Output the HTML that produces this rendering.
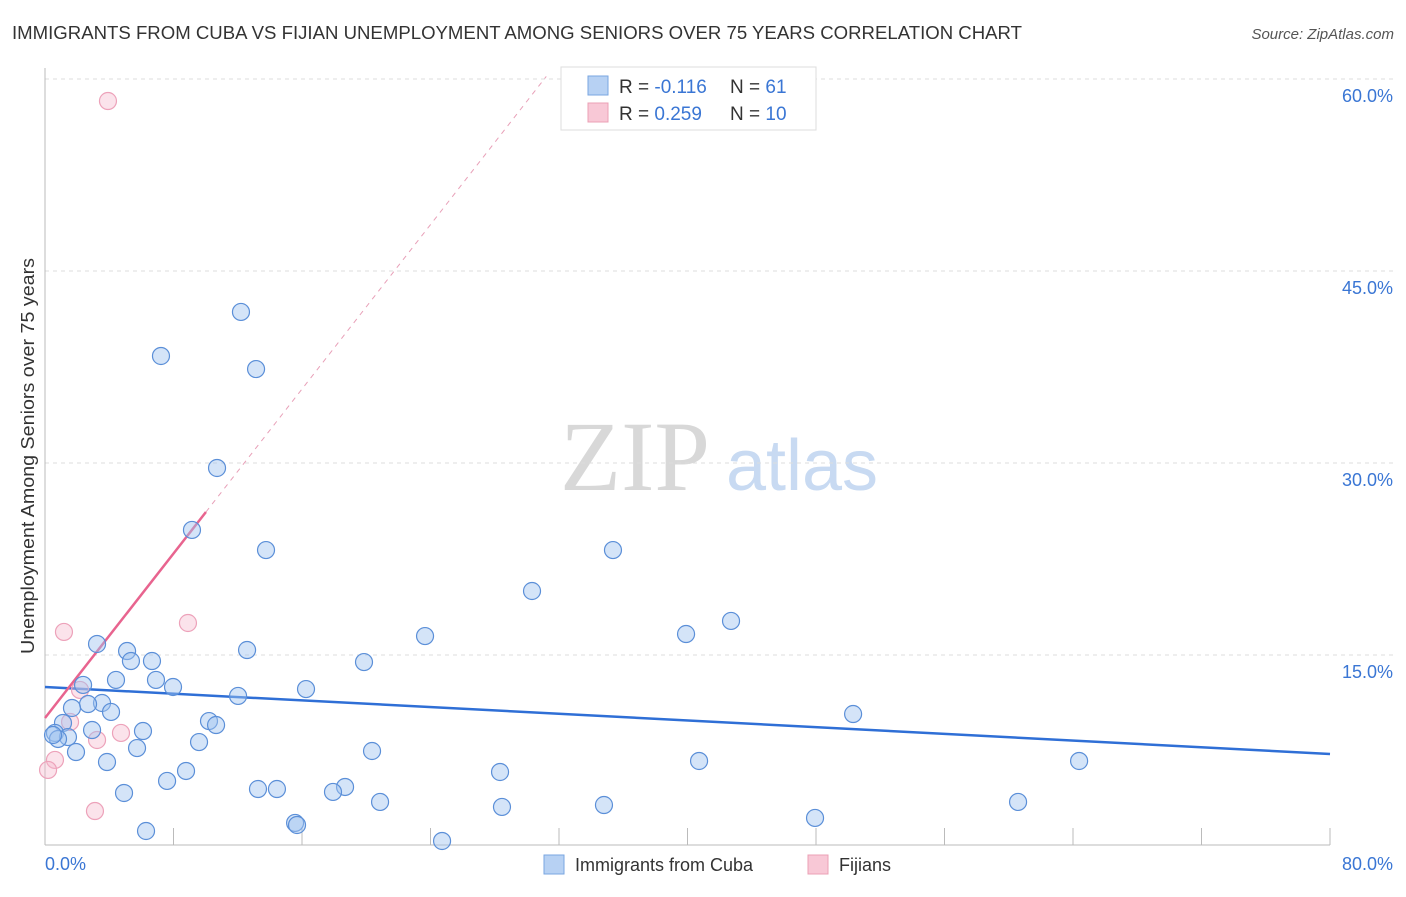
<!DOCTYPE html>
<html><head><meta charset="utf-8"><style>
body{margin:0;background:#fff;font-family:"Liberation Sans",sans-serif;}
</style></head><body>
<svg id="chart" width="1406" height="892" font-family="Liberation Sans, sans-serif">
<text x="12" y="39" font-size="18" fill="#333" textLength="1010" lengthAdjust="spacingAndGlyphs">IMMIGRANTS FROM CUBA VS FIJIAN UNEMPLOYMENT AMONG SENIORS OVER 75 YEARS CORRELATION CHART</text>
<text x="1394" y="39" font-size="15" fill="#555" font-style="italic" text-anchor="end">Source: ZipAtlas.com</text>
<text transform="translate(34,456) rotate(-90)" font-size="18" fill="#333" text-anchor="middle" textLength="396" lengthAdjust="spacingAndGlyphs">Unemployment Among Seniors over 75 years</text>
<g><text x="635" y="490" font-size="100" fill="#d8d8d8" style="font-family:'Liberation Serif',serif" text-anchor="middle">ZIP</text><text x="802" y="490" font-size="72" fill="#c8daf2" text-anchor="middle">atlas</text></g>
<g id="grid"></g><g id="axes"></g><g id="lines"></g><g id="pts"></g>
<g>
<rect x="561" y="67" width="255" height="63" fill="#fff" stroke="#ddd"/>
<rect x="588" y="76" width="20" height="19" fill="#b7d1f3" stroke="#7aa6e0"/>
<rect x="588" y="103" width="20" height="19" fill="#f8c8d6" stroke="#eba0b5"/>
<text x="619" y="93" font-size="19" fill="#333">R = <tspan fill="#3a76d4">-0.116</tspan><tspan x="730">N = </tspan><tspan fill="#3a76d4">61</tspan></text>
<text x="619" y="120" font-size="19" fill="#333">R = <tspan fill="#3a76d4"> 0.259</tspan><tspan x="730">N = </tspan><tspan fill="#3a76d4">10</tspan></text>
</g>
<g>
<rect x="544" y="855" width="20" height="19" fill="#b7d1f3" stroke="#7aa6e0"/>
<text x="575" y="871" font-size="18" fill="#333">Immigrants from Cuba</text>
<rect x="808" y="855" width="20" height="19" fill="#f8c8d6" stroke="#eba0b5"/>
<text x="839" y="871" font-size="18" fill="#333">Fijians</text>
</g>
</svg>
<script>
const blueX=[12.20,7.22,13.14,10.71,9.15,13.76,35.36,30.32,42.71,39.91,23.66,3.24,5.11,12.58,6.66,5.35,19.86,6.91,4.42,7.97,2.37,16.25,12.02,3.55,2.68,1.68,4.11,10.21,10.65,1.12,2.93,6.10,50.31,0.62,1.43,0.81,9.59,5.73,20.36,1.93,3.86,40.72,64.38,8.78,28.33,7.60,18.68,17.93,4.92,13.26,14.44,20.86,60.58,34.80,28.45,47.94,15.57,15.69,6.29,24.72,0.50];
const blueY=[41.80,38.36,37.34,29.61,24.77,23.20,23.20,20.00,17.66,16.64,16.48,15.86,15.31,15.39,14.53,14.53,14.45,13.05,13.05,12.50,12.66,12.34,11.80,11.25,11.17,10.86,10.55,9.84,9.53,9.69,9.14,9.06,10.39,8.91,8.59,8.44,8.20,7.73,7.50,7.42,6.64,6.72,6.72,5.94,5.86,5.16,4.69,4.30,4.22,4.53,4.53,3.52,3.52,3.28,3.13,2.27,1.88,1.72,1.25,0.47,8.75];
const pinkX=[3.92,1.18,8.90,2.18,1.56,3.24,4.73,0.62,0.19,3.11];
const pinkY=[58.28,16.80,17.50,12.27,9.77,8.36,8.91,6.80,6.02,2.81];
const yTicks=[15,30,45,60];
const yTickLabels=["15.0%","30.0%","45.0%","60.0%"];
const blueTrend=[12.5,7.27];
const pinkTrend=[10.08,1.606];
const NS="http://www.w3.org/2000/svg";
const sx=v=>45+v*1285/80, sy=v=>847-v*192/15;
function mk(tag,attrs,parent){const e=document.createElementNS(NS,tag);for(const k in attrs)e.setAttribute(k,attrs[k]);document.getElementById(parent).appendChild(e);return e;}
yTicks.forEach((t,i)=>{
 const g=mk('line',{x1:45,x2:1394,y1:sy(t),y2:sy(t),stroke:'#ddd','stroke-dasharray':'4,4'},'grid');
 
 
 const l=mk('text',{x:1393,y:sy(t)+23,'font-size':18,fill:'#3a76d4','text-anchor':'end'},'grid');
 l.textContent=yTickLabels[i];
 
 
});
const ax=mk('line',{x1:45,x2:45,y1:68,y2:845,stroke:'#bbb'},'axes');


const bx=mk('line',{x1:45,x2:1330,y1:845,y2:845,stroke:'#bbb'},'axes');


for(let i=1;i<=10;i++){const t=mk('line',{x1:sx(i*8),x2:sx(i*8),y1:828,y2:845,stroke:'#bbb'},'axes');
 
 }
[["0.0%",45,'start'],["80.0%",1393,'end']].forEach(a=>{const t=mk('text',{x:a[1],y:870,'font-size':18,fill:'#3a76d4','text-anchor':a[2]},'axes');t.textContent=a[0];
 
 });
const bl=mk('line',{x1:sx(0),y1:sy(blueTrend[0]),x2:sx(80),y2:sy(blueTrend[1]),stroke:'#2f6fd6','stroke-width':2.5},'lines');


const pEnd=10.02, pDash=(60.2-pinkTrend[0])/pinkTrend[1];
const pl=mk('line',{x1:sx(0),y1:sy(pinkTrend[0]),x2:sx(pEnd),y2:sy(pinkTrend[0]+pinkTrend[1]*pEnd),stroke:'#e8648f','stroke-width':2.5},'lines');


const pd=mk('line',{x1:sx(pEnd),y1:sy(pinkTrend[0]+pinkTrend[1]*pEnd),x2:sx(pDash),y2:sy(60.2),stroke:'#e8a0b8','stroke-width':1,'stroke-dasharray':'5,5'},'lines');


pinkX.forEach((x,i)=>{const c=mk('circle',{cx:sx(x),cy:sy(pinkY[i]),r:8.5,fill:'rgba(246,185,205,0.4)',stroke:'#eda2ba','stroke-width':1.2},'pts');
 
 });
blueX.forEach((x,i)=>{const c=mk('circle',{cx:sx(x),cy:sy(blueY[i]),r:8.5,fill:'rgba(160,196,240,0.45)',stroke:'#5b8fd8','stroke-width':1.2},'pts');
 
 });
</script>
</body></html>
